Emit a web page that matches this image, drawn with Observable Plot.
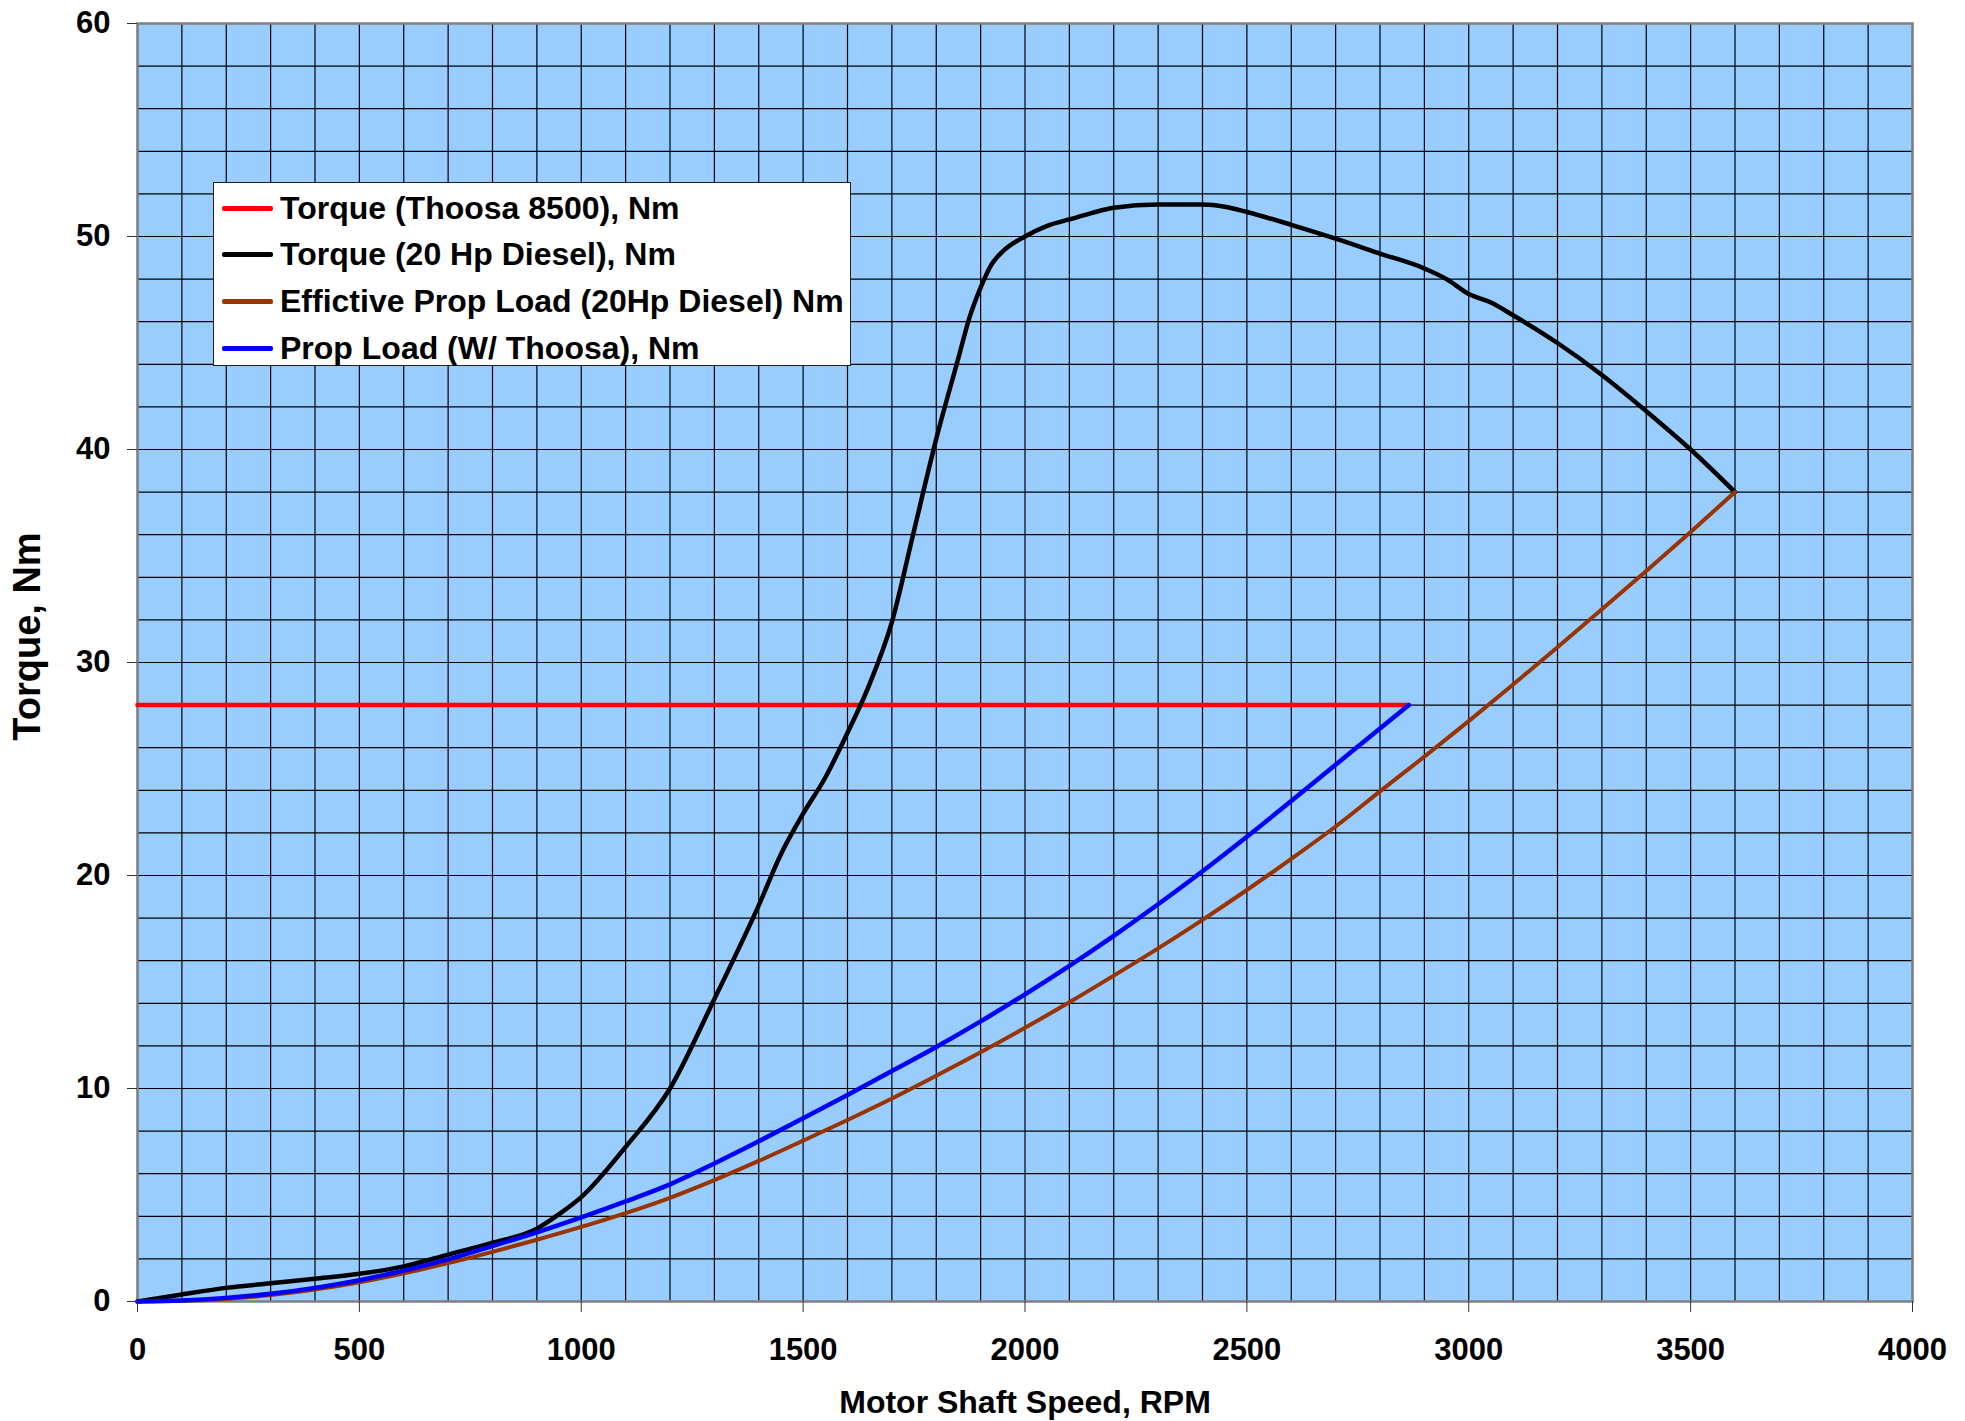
<!DOCTYPE html>
<html><head><meta charset="utf-8">
<script src="https://cdn.jsdelivr.net/npm/d3@7"></script>
<script src="https://cdn.jsdelivr.net/npm/@observablehq/plot@0.6"></script>
<style>
html,body{margin:0;padding:0;background:#fff;}
#wrap{position:relative;width:1965px;height:1421px;font-family:"Liberation Sans",Arial,sans-serif;color:#000;}
#legend{position:absolute;left:213px;top:182px;width:638px;height:184px;background:#fff;border:1.5px solid #222;box-sizing:border-box;}
.row{position:absolute;left:0;height:40px;display:flex;align-items:center;}
.sw{width:51px;height:5px;margin-left:8px;margin-right:7px;border-radius:2px;}
.lt{font-size:32px;font-weight:bold;white-space:nowrap;}
</style></head>
<body><div id="wrap"></div>
<script>
// Series names (legend order)
const seriesNames = [
  "Torque (Thoosa 8500), Nm",
  "Torque (20 Hp Diesel), Nm",
  "Effictive Prop Load (20Hp Diesel) Nm",
  "Prop Load (W/ Thoosa), Nm"
];
const seriesColors = ["#ff0000", "#000000", "#993300", "#0000ff"];

// Torque (Thoosa 8500)
const rpmThoosa = [0, 2865];
const nmThoosa = [28, 28];

// Torque (20 Hp Diesel)
const rpmDiesel = [0,100,200,300,400,500,600,700,800,900,950,1000,1100,1200,1300,1400,1450,1500,1550,1600,1650,1700,1750,1800,1850,1875,1900,1925,1950,2000,2050,2100,2150,2200,2300,2400,2450,2500,2600,2700,2800,2900,2950,3000,3050,3100,3200,3300,3400,3500,3600];
const nmDiesel  = [0,0.33,0.64,0.86,1.07,1.3,1.65,2.2,2.76,3.42,4.1,4.9,7.26,10.0,14.2,18.6,21.0,22.9,24.6,26.7,29.0,31.9,36.2,40.5,44.3,46.2,47.6,48.7,49.3,50.0,50.5,50.8,51.1,51.35,51.5,51.5,51.4,51.15,50.55,49.9,49.2,48.5,48.0,47.3,46.9,46.3,45.0,43.5,41.8,40.0,38.0];

// Effective Prop Load (20Hp Diesel)
const rpmPropDiesel = [0,100,200,300,400,500,600,700,800,900,1000,1100,1200,1300,1400,1500,1600,1700,1800,1900,2000,2100,2200,2300,2400,2500,2600,2700,2800,2900,3000,3100,3200,3300,3400,3500,3600];
const nmPropDiesel  = [0,0.03,0.12,0.3,0.56,0.9,1.32,1.8,2.33,2.9,3.5,4.15,4.87,5.7,6.6,7.55,8.52,9.53,10.6,11.7,12.85,14.05,15.3,16.58,17.92,19.32,20.78,22.3,23.95,25.58,27.25,28.97,30.72,32.5,34.3,36.13,38.0];

// Prop Load (W/ Thoosa)
const rpmPropThoosa = [0,100,200,300,400,500,600,700,800,900,1000,1100,1200,1300,1400,1500,1600,1700,1800,1900,2000,2100,2200,2300,2400,2500,2600,2700,2800,2865];
const nmPropThoosa  = [0,0.05,0.17,0.36,0.64,1.0,1.45,1.98,2.6,3.25,3.95,4.7,5.5,6.48,7.52,8.6,9.7,10.82,11.95,13.15,14.42,15.76,17.17,18.65,20.2,21.82,23.5,25.2,26.9,28.0];

// Axis ticks
const xTicks = [0,500,1000,1500,2000,2500,3000,3500,4000];
const yTicks = [0,10,20,30,40,50,60];
const xGrid = d3.range(0, 4001, 100);
const yGrid = d3.range(0, 61, 2);
const xTitle = "Motor Shaft Speed, RPM";
const yTitle = "Torque, Nm";

const toRows = (xs, ys) => xs.map((x, i) => ({rpm: x, nm: ys[i]}));
const series = [
  toRows(rpmThoosa, nmThoosa),
  toRows(rpmDiesel, nmDiesel),
  toRows(rpmPropDiesel, nmPropDiesel),
  toRows(rpmPropThoosa, nmPropThoosa)
];
const widths = [4.5, 4.5, 4, 4.5];

const chart = Plot.plot({
  width: 1965,
  height: 1421,
  marginLeft: 137,
  marginRight: 53,
  marginTop: 23,
  marginBottom: 120,
  style: {fontFamily: "'Liberation Sans', Arial, sans-serif", fontWeight: "bold", color: "#000", background: "#fff"},
  x: {domain: [0, 4000]},
  y: {domain: [0, 60]},
  marks: [
    Plot.frame({fill: "#99ccff", stroke: null}),
    Plot.gridX(xGrid, {stroke: "#000", strokeOpacity: 1, strokeWidth: 1.2}),
    Plot.gridY(yGrid, {stroke: "#000", strokeOpacity: 1, strokeWidth: 1.2}),
    Plot.frame({stroke: "#808080", strokeWidth: 2.5}),
    ...series.map((d, i) => Plot.line(d, {x: "rpm", y: "nm", stroke: seriesColors[i], strokeWidth: widths[i], curve: "monotone-x", strokeLinejoin: "round"})),
    Plot.axisX(xTicks, {tickSize: 11, tickPadding: 25, fontSize: 31, label: null, stroke: "#333", tickFormat: d => String(d)}),
    Plot.axisY(yTicks, {tickSize: 10, tickPadding: 17, fontSize: 31, label: null, stroke: "#333", tickFormat: d => String(d)}),
    Plot.text([xTitle], {frameAnchor: "bottom", dy: 101, fontSize: 32, fontWeight: "bold", lineAnchor: "middle", textAnchor: "middle", fill: "#000"}),
    Plot.text([yTitle], {frameAnchor: "left", dx: -110, dy: -26, rotate: -90, fontSize: 38, fontWeight: "bold", lineAnchor: "middle", textAnchor: "middle", fill: "#000"})
  ]
});

const wrap = document.getElementById("wrap");
wrap.appendChild(chart);

const legend = document.createElement("div");
legend.id = "legend";
const rowTops = [5, 51, 98, 145];
seriesNames.forEach((name, i) => {
  const r = document.createElement("div");
  r.className = "row";
  r.style.top = rowTops[i] + "px";
  const sw = document.createElement("div");
  sw.className = "sw";
  sw.style.background = seriesColors[i];
  const t = document.createElement("span");
  t.className = "lt";
  t.textContent = name;
  r.appendChild(sw); r.appendChild(t);
  legend.appendChild(r);
});
wrap.appendChild(legend);
</script>
</body></html>
